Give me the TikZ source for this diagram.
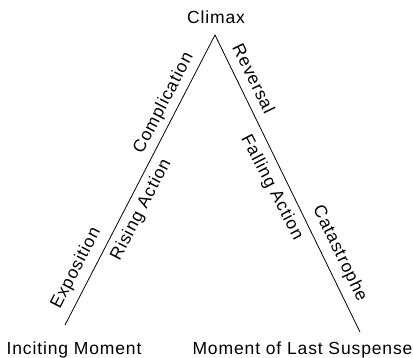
\documentclass[tikz,border=0pt]{standalone}
\usepackage{fontspec}
\setmainfont{Liberation Sans}[LetterSpace=5]
\usetikzlibrary{calc}
\begin{document}
\begin{tikzpicture}[x=1pt,y=1pt,
  lbl/.style={font=\fontsize{17.5}{19}\selectfont, inner sep=0pt},
  edge/.style={line width=0.8pt, line join=miter}]
\useasboundingbox (0,0) rectangle (413,358);
\coordinate (apex) at (215,323);
\coordinate (L) at (65,33);
\coordinate (R) at (360,26);
\draw[edge] (L) -- (apex) -- (R);
\node[lbl, anchor=base] (climax) at (216,334.7) {Climax};
\node[lbl, anchor=base] (inciting) at (74,3) {Inciting Moment};
\node[lbl, anchor=base] (lastsusp) at (302.5,3) {Moment of Last Suspense};
% left side labels
\node[lbl, rotate=62.65] (expo) at ($(L)!0.17!(apex)!16pt!90:(apex)$) {Exposition};
\node[lbl, rotate=62.65] (rising) at ($(L)!0.42!(apex)!15pt!-90:(apex)$) {Rising Action};
\node[lbl, rotate=62.65] (compl) at ($(L)!0.742!(apex)!14pt!90:(apex)$) {Complication};
% right side labels
\node[lbl, rotate=-64.1] (rev) at ($(apex)!0.17!(R)!16pt!90:(R)$) {Reversal};
\node[lbl, rotate=-62.5] (fall) at ($(apex)!0.49!(R)!16pt!-90:(R)$) {Falling Action};
\node[lbl, rotate=-64.1] (cata) at ($(apex)!0.76!(R)!16pt!90:(R)$) {Catastrophe};
\end{tikzpicture}
\end{document}
